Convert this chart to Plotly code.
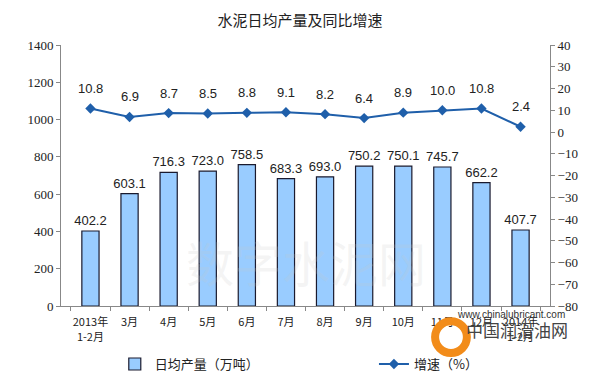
import plotly.graph_objects as go

categories = ["2013年<br>1-2月", "3月", "4月", "5月", "6月", "7月", "8月", "9月",
              "10月", "11月", "12月", "2014年<br>1-2月"]
output_vals = [402.2, 603.1, 716.3, 723.0, 758.5, 683.3, 693.0, 750.2, 750.1, 745.7, 662.2, 407.7]
growth_vals = [10.8, 6.9, 8.7, 8.5, 8.8, 9.1, 8.2, 6.4, 8.9, 10.0, 10.8, 2.4]

left_ticks = list(range(0, 1401, 200))
right_ticks = list(range(-80, 41, 10))

serif = "Liberation Serif, serif"
cjk = "Noto Sans CJK SC"
sans = "Liberation Sans, Arial"

fig = go.Figure()
fig.add_trace(go.Bar(
    x=categories, y=output_vals, name="日均产量（万吨）",
    marker=dict(color="#99CCFF", line=dict(color="#1a1a2e", width=1.2)),
    text=[f"{v:.1f}" for v in output_vals], textposition="outside",
    constraintext="none",
    textfont=dict(family=sans, size=13, color="#222"),
    cliponaxis=False, yaxis="y", legend="legend",
))
fig.add_trace(go.Scatter(
    x=categories, y=growth_vals, name="增速（%）", mode="lines+markers",
    line=dict(color="#1F5FAA", width=2),
    marker=dict(symbol="diamond", size=8, color="#1F5FAA"),
    cliponaxis=False, yaxis="y2", legend="legend2",
))
for c, v in zip(categories, growth_vals):
    fig.add_annotation(x=c, y=v, xref="x", yref="y2", text=f"{v:.1f}", showarrow=False,
                       yshift=20, font=dict(family=sans, size=13, color="#222"))

fig.update_layout(
    width=600, height=381,
    margin=dict(l=61, r=50, t=45, b=75, autoexpand=False),
    paper_bgcolor="white", plot_bgcolor="white",
    title=dict(text="水泥日均产量及同比增速", x=0.5, xanchor="center", y=0.945, yanchor="middle",
               font=dict(family=cjk, size=15, color="#222")),
    bargap=0.56,
    showlegend=True,
    legend=dict(orientation="h", x=0.11, xanchor="left", y=-0.165, yanchor="top",
                font=dict(family=cjk, size=13, color="#222"), itemwidth=30,
                bgcolor="rgba(0,0,0,0)"),
    legend2=dict(orientation="h", x=0.64, xanchor="left", y=-0.165, yanchor="top",
                 font=dict(family=cjk, size=13, color="#222"), itemwidth=30,
                 bgcolor="rgba(0,0,0,0)"),
    xaxis=dict(
        showline=True, linecolor="#888", linewidth=1, tickangle=0, automargin=False,
        ticks="outside", ticklen=4, tickcolor="#888", tickson="boundaries",
        ticklabelstandoff=6,
        tickfont=dict(family=cjk, size=11, color="#222"), showgrid=False,
    ),
    yaxis=dict(
        range=[0, 1400], tickvals=left_ticks, showline=True, linecolor="#888",
        ticks="outside", ticklen=4, tickcolor="#888", showgrid=False, zeroline=False,
        automargin=False, tickfont=dict(family=serif, size=13, color="#222"),
    ),
    yaxis2=dict(
        range=[-80, 40], tickvals=right_ticks, overlaying="y", side="right",
        showline=True, linecolor="#888", ticks="outside", ticklen=4, tickcolor="#888",
        showgrid=False, zeroline=False, automargin=False,
        tickfont=dict(family=serif, size=13, color="#222"),
    ),
)

# watermarks
fig.add_annotation(text="数字水泥网", xref="paper", yref="paper", x=0.5, y=0.03,
                   showarrow=False, font=dict(family=cjk, size=48, color="rgba(200,200,200,0.2)"))
fig.add_shape(type="circle", xref="paper", yref="paper", x0=0.765, x1=0.83, y0=-0.18, y1=-0.058,
              line=dict(color="#F28C1A", width=8))
fig.add_annotation(text="www.chinalubricant.com", xref="paper", yref="paper", x=1.035, y=-0.06,
                   xanchor="right", showarrow=False, font=dict(family=sans, size=10, color="#333"))
fig.add_annotation(text="中国润滑油网", xref="paper", yref="paper", x=1.04, y=-0.145,
                   xanchor="right", showarrow=False, font=dict(family=cjk, size=17, color="#444"))

fig.write_html("out.html", config={"displayModeBar": False},
               post_script="document.body.style.margin='0';document.body.style.overflow='hidden';")
